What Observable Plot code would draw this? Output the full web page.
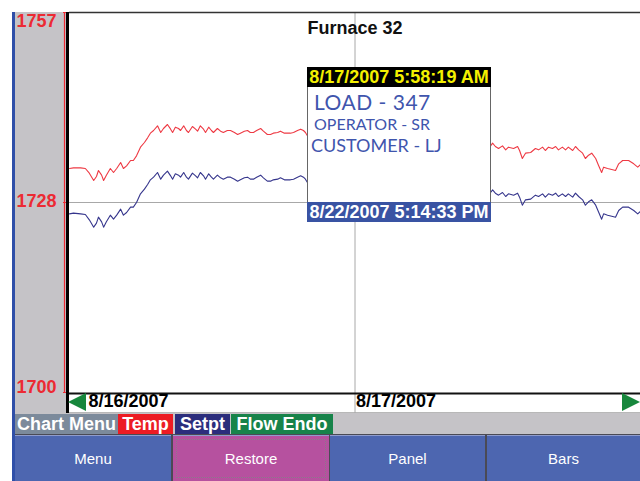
<!DOCTYPE html>
<html><head><meta charset="utf-8">
<script src="https://cdn.jsdelivr.net/npm/d3@7"></script>
<script src="https://cdn.jsdelivr.net/npm/@observablehq/plot@0.6"></script>
<style>
body{margin:0;background:#fff;}
#wrap{position:relative;width:640px;height:481px;overflow:hidden;font-family:"Liberation Sans",Arial,sans-serif;}
.a{position:absolute;box-sizing:border-box;}
.leg{position:absolute;top:414px;height:20px;line-height:21px;color:#fff;font-weight:bold;font-size:18px;text-align:center;white-space:nowrap;overflow:hidden;}
.btn{position:absolute;top:435px;height:46px;line-height:46px;color:#fff;font-size:15px;text-align:center;box-sizing:border-box;}
.hand{position:absolute;font-family:Lato,'DejaVu Sans',sans-serif;font-weight:400;color:#3f55ad;white-space:nowrap;line-height:1;}
#chart{position:absolute;left:0;top:0;}
</style></head>
<body>
<div id="wrap">
  <div class="a" style="left:12px;top:12px;width:3px;height:469px;background:#2f4fa8"></div>
  <div class="a" style="left:15px;top:12px;width:52px;height:401px;background:#c5c3c7"></div>
  <div class="a" style="left:67px;top:392px;width:573px;height:21px;background:#fff;border-bottom:1px solid #b8b8b8"></div>
  <div class="a" style="left:15px;top:413px;width:625px;height:22px;background:#c5c3c7"></div>
  <div id="legend"></div>
  <div class="a" style="left:15px;top:434px;width:625px;height:47px;background:#4a4a55"></div>
  <div id="buttons"></div>
  <div id="chart"></div>
  <div class="a" style="left:66px;top:12px;width:3px;height:401px;background:#000"></div>
  <div class="a" style="left:68px;top:393px;width:0;height:0;border-top:9px solid transparent;border-bottom:9px solid transparent;border-right:18px solid #17873c"></div>
  <div class="a" style="left:622px;top:393px;width:0;height:0;border-top:9px solid transparent;border-bottom:9px solid transparent;border-left:18px solid #17873c"></div>
  <div id="note"></div>
</div>
<script>
// minutes after 8/16/2007 12:00
const minutes = [0,10,28,40,50,61,68,73,81,86,93,103,111,119,129,136,144,154,161,169,179,189,197,204,212,222,230,237,247,255,260,267,275,280,288,295,300,310,318,323,330,338,343,351,358,363,373,381,388,398,406,416,424,431,441,449,456,464,472,482,489,499,507,514,525,532,542,550,557,565,575,583,590,595,603,620,646,671,696,721,747,772,797,822,847,873,898,923,948,973,999,1024,1049,1062,1067,1074,1082,1092,1100,1107,1120,1130,1135,1142,1150,1163,1175,1183,1193,1200,1208,1218,1226,1233,1243,1251,1258,1269,1276,1284,1294,1301,1309,1317,1327,1334,1342,1347,1357,1370,1377,1385,1395,1410,1423,1433,1440];
const temp = [1733.6,1733.7,1733.7,1733.6,1732.9,1731.8,1732.4,1733.3,1732.6,1731.8,1732.6,1733.6,1733.0,1733.6,1734.5,1733.6,1734.0,1734.8,1734.8,1735.5,1736.8,1737.5,1738.2,1738.9,1739.3,1740.0,1739.0,1739.6,1740.2,1739.5,1739.0,1739.8,1739.6,1739.3,1740.0,1739.3,1739.0,1739.9,1739.5,1739.2,1740.0,1739.5,1739.0,1739.8,1739.3,1739.0,1739.6,1739.2,1739.0,1739.3,1739.3,1739.0,1738.7,1738.9,1739.2,1739.3,1739.0,1739.0,1739.3,1739.6,1739.2,1738.7,1738.7,1738.9,1739.0,1739.2,1738.9,1738.9,1738.9,1739.0,1739.3,1739.5,1739.3,1739.0,1738.2,1737.8,1738.2,1737.8,1738.1,1737.6,1737.9,1737.5,1737.8,1737.4,1737.7,1737.2,1737.5,1737.0,1737.3,1736.9,1737.2,1736.9,1737.2,1737.0,1737.4,1736.9,1736.6,1737.0,1736.4,1736.8,1736.6,1736.9,1736.3,1735.1,1735.9,1736.0,1736.6,1736.4,1736.8,1736.3,1736.8,1736.6,1736.9,1736.4,1736.8,1736.4,1736.8,1736.3,1736.9,1736.4,1735.9,1735.1,1735.6,1735.9,1735.1,1734.1,1733.0,1733.8,1733.6,1733.4,1733.3,1734.3,1734.8,1734.8,1734.3,1733.8,1734.2];
const setpt = [1726.8,1726.9,1726.8,1726.7,1725.9,1724.8,1725.4,1726.3,1725.6,1724.8,1725.6,1726.6,1726.0,1726.6,1727.5,1726.6,1727.0,1727.8,1727.8,1728.5,1729.8,1730.5,1731.2,1731.9,1732.3,1733.0,1732.0,1732.6,1733.2,1732.5,1732.0,1732.8,1732.6,1732.3,1733.0,1732.3,1732.0,1732.9,1732.5,1732.2,1733.0,1732.5,1732.0,1732.8,1732.3,1732.0,1732.6,1732.2,1732.0,1732.3,1732.3,1732.0,1731.7,1731.9,1732.2,1732.3,1732.0,1732.0,1732.3,1732.6,1732.2,1731.7,1731.7,1731.9,1732.0,1732.2,1731.9,1731.9,1731.9,1732.0,1732.3,1732.5,1732.3,1732.0,1731.2,1730.8,1731.2,1730.8,1731.1,1730.6,1730.9,1730.5,1730.8,1730.4,1730.7,1730.2,1730.5,1730.0,1730.3,1729.9,1730.2,1729.9,1730.2,1730.0,1730.4,1729.9,1729.6,1730.0,1729.4,1729.8,1729.6,1729.9,1729.3,1728.1,1728.9,1729.0,1729.6,1729.4,1729.8,1729.3,1729.8,1729.6,1729.9,1729.4,1729.8,1729.4,1729.8,1729.3,1729.9,1729.4,1728.9,1728.1,1728.6,1728.9,1728.1,1727.1,1726.0,1726.8,1726.6,1726.4,1726.3,1727.3,1727.8,1727.8,1727.3,1726.8,1727.2];
const yTickValues = [1700, 1728.5, 1757];
const yTickLabels = ["1700", "1728", "1757"];
const dateTicks = ["2007-08-16T12:00", "2007-08-17T00:00"];
const dateTickLabels = ["8/16/2007", "8/17/2007"];
const xEnd = "2007-08-17T12:00";
const title = ["Furnace 32"];
const legendLabels = ["Chart Menu", "Temp", "Setpt", "Flow Endo"];
const buttonLabels = ["Menu", "Restore", "Panel", "Bars"];
const noteStart = "8/17/2007 5:58:19 AM";
const noteEnd = "8/22/2007 5:14:33 PM";
const noteLines = ["LOAD - 347", "OPERATOR - SR", "CUSTOMER - LJ"];

const base = new Date(dateTicks[0]);
const mid = new Date(dateTicks[1]);
const end = new Date(xEnd);
const rows = minutes.map((m, i) => ({t: new Date(base.getTime() + m * 60000), temp: temp[i], setpt: setpt[i]}));
const RED = "#ec2a33";
const font = "Liberation Sans, Arial, sans-serif";

const chart = Plot.plot({
  width: 640, height: 413,
  marginTop: 12, marginLeft: 69, marginRight: 0, marginBottom: 21,
  style: {background: "transparent", overflow: "visible", fontFamily: font},
  x: {type: "time", domain: [base, end], axis: null},
  y: {domain: [1700, 1757], axis: null},
  marks: [
    Plot.ruleY([yTickValues[1]], {stroke: "#a8a8a8"}),
    Plot.ruleX([mid], {stroke: "#a8a8a8", insetBottom: -21}),
    Plot.ruleY([1757], {stroke: "#333", strokeWidth: 1.5}),
    Plot.ruleY([1700], {stroke: "#111", strokeWidth: 2, dy: 1, insetLeft: -2}),
    Plot.ruleX([base], {stroke: RED, dx: -5, strokeWidth: 1.2}),
    Plot.ruleY(yTickValues, {x1: base, x2: base, insetLeft: -6, stroke: RED}),
    Plot.line(rows, {x: "t", y: "temp", stroke: "#ee3a44", strokeWidth: 1.1}),
    Plot.line(rows, {x: "t", y: "setpt", stroke: "#35358c", strokeWidth: 1.1}),
    Plot.text(title, {frameAnchor: "top", dy: 9, fontSize: 18, fontWeight: "bold", fill: "#111"}),
    Plot.text([yTickValues[2]], {x: base, y: d => d, text: () => yTickLabels[2], textAnchor: "start", lineAnchor: "top", dx: -53, dy: 2, fill: RED, fontSize: 18, fontWeight: "bold"}),
    Plot.text([yTickValues[1]], {x: base, y: d => d, text: () => yTickLabels[1], textAnchor: "start", lineAnchor: "middle", dx: -53, dy: -1, fill: RED, fontSize: 18, fontWeight: "bold"}),
    Plot.text([yTickValues[0]], {x: base, y: d => d, text: () => yTickLabels[0], textAnchor: "start", lineAnchor: "bottom", dx: -53, dy: 0, fill: RED, fontSize: 18, fontWeight: "bold"}),
    Plot.text([base], {x: d => d, text: () => dateTickLabels[0], frameAnchor: "bottom", textAnchor: "start", dx: 19, dy: 14, fill: "#000", fontSize: 18, fontWeight: "bold"}),
    Plot.text([mid], {x: d => d, text: () => dateTickLabels[1], frameAnchor: "bottom", textAnchor: "start", dx: 1, dy: 14, fill: "#000", fontSize: 18, fontWeight: "bold"})
  ]
});
document.getElementById("chart").appendChild(chart);

// legend row
const legLayout = [[15,103,"#7c8a9b"],[118,55,"#ec1c24"],[175,55,"#2b2d7c"],[231,102,"#17834a"]];
document.getElementById("legend").innerHTML = legendLabels.map((s, i) =>
  `<div class="leg" style="left:${legLayout[i][0]}px;width:${legLayout[i][1]}px;background:${legLayout[i][2]}">${s}</div>`).join("");

// buttons
const btnLayout = [[15,156,"#4d66b0"],[173,156,"#b6519f"],[330,155,"#4d66b0"],[487,153,"#4d66b0"]];
document.getElementById("buttons").innerHTML = buttonLabels.map((s, i) =>
  `<div class="btn" style="left:${btnLayout[i][0]}px;width:${btnLayout[i][1]}px;background:${btnLayout[i][2]};border-top:1px solid #8f9ccc">${s}${i===1?'<div style="position:absolute;left:3px;top:3px;right:3px;bottom:3px;border:1px dotted #8a7a8a"></div>':''}</div>`).join("");

// note box
document.getElementById("note").innerHTML = `
<div class="a" style="left:307px;top:67px;width:184px;height:155px;background:#fff;border:1px solid #666"></div>
<div class="a" style="left:307px;top:67px;width:184px;height:20px;background:#000;color:#f4f000;font-weight:bold;font-size:18px;line-height:21px;text-align:center;white-space:nowrap">${noteStart}</div>
<div class="hand" style="left:314px;top:91px;font-size:21px;letter-spacing:0.5px">${noteLines[0]}</div>
<div class="hand" style="left:314px;top:116px;font-size:16px">${noteLines[1]}</div>
<div class="hand" style="left:311px;top:136px;font-size:18px">${noteLines[2]}</div>
<div class="a" style="left:307px;top:202px;width:184px;height:20px;background:#3953a3;color:#fff;font-weight:bold;font-size:18px;line-height:21px;text-align:center;white-space:nowrap">${noteEnd}</div>`;
</script>
</body></html>
